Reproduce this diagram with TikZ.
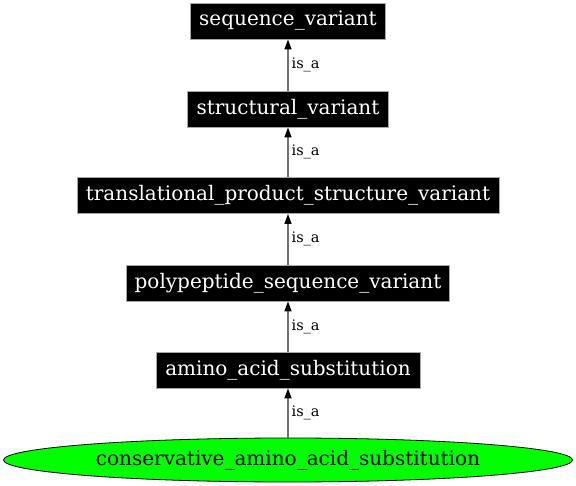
\documentclass[tikz,border=0pt]{standalone}
\usepackage{fontspec}
\setmainfont{DejaVu Serif}
\usetikzlibrary{arrows.meta,shapes.geometric}
\definecolor{nodegreen}{HTML}{00FF00}
\tikzset{
  termbox/.style={rectangle, fill=black, draw=gray!70, line width=0.8pt, text=white, font=\fontsize{20}{22}\selectfont, inner sep=0pt, minimum height=36pt},
  termell/.style={ellipse, fill=nodegreen, draw=black, line width=0.8pt, text=black, font=\fontsize{20}{22}\selectfont, inner sep=0pt, minimum width=569pt, minimum height=44pt},
  isa/.style={draw=black!55, line width=1.3pt, -{Triangle[length=10pt,width=7pt,color=black]}},
  isalabel/.style={font=\fontsize{14.5}{16}\selectfont, anchor=west, inner sep=0pt}
}
\begin{document}
\begin{tikzpicture}[x=1pt,y=1pt]
\useasboundingbox (0,0) rectangle (576,485);
\node[termbox, minimum width=195pt] (sv) at (288,464) {sequence\_variant};
\node[termbox, minimum width=201pt] (st) at (288,376) {structural\_variant};
\node[termbox, minimum width=422pt] (tp) at (288,289.5) {translational\_product\_structure\_variant};
\node[termbox, minimum width=323pt] (pp) at (288,202) {polypeptide\_sequence\_variant};
\node[termbox, minimum width=264pt] (aa) at (288,115) {amino\_acid\_substitution};
\node[termell] (ca) at (288,25) {conservative\_amino\_acid\_substitution};
\draw[isa] (st) -- node[isalabel, xshift=3pt] {is\_a} (sv);
\draw[isa] (tp) -- node[isalabel, xshift=3pt] {is\_a} (st);
\draw[isa] (pp) -- node[isalabel, xshift=3pt] {is\_a} (tp);
\draw[isa] (aa) -- node[isalabel, xshift=3pt] {is\_a} (pp);
\draw[isa] (ca) -- node[isalabel, xshift=3pt] {is\_a} (aa);
\end{tikzpicture}
\end{document}
